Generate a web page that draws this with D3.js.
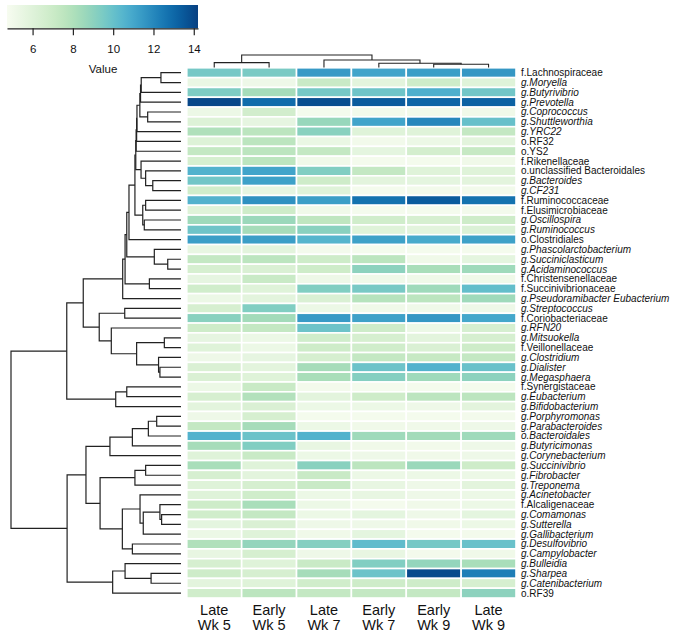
<!DOCTYPE html>
<html><head><meta charset="utf-8">
<script src="https://cdn.jsdelivr.net/npm/d3@7"></script>
<style>body{margin:0;background:#fff} svg{display:block;font-family:"Liberation Sans",Arial,Helvetica,sans-serif}</style>
</head><body>
<svg id="chart" width="675" height="638"></svg>
<script>
// ---------------- DATA ----------------
const columns = ["Late Wk 5","Early Wk 5","Late Wk 7","Early Wk 7","Early Wk 9","Late Wk 9"];
const rowLabels = ["f.Lachnospiraceae","g.Moryella","g.Butyrivibrio","g.Prevotella","g.Coprococcus","g.Shuttleworthia","g.YRC22","o.RF32","o.YS2","f.Rikenellaceae","o.unclassified Bacteroidales","g.Bacteroides","g.CF231","f.Ruminococcaceae","f.Elusimicrobiaceae","g.Oscillospira","g.Ruminococcus","o.Clostridiales","g.Phascolarctobacterium","g.Succiniclasticum","g.Acidaminococcus","f.Christensenellaceae","f.Succinivibrionaceae","g.Pseudoramibacter Eubacterium","g.Streptococcus","f.Coriobacteriaceae","g.RFN20","g.Mitsuokella","f.Veillonellaceae","g.Clostridium","g.Dialister","g.Megasphaera","f.Synergistaceae","g.Eubacterium","g.Bifidobacterium","g.Porphyromonas","g.Parabacteroides","o.Bacteroidales","g.Butyricimonas","g.Corynebacterium","g.Succinivibrio","g.Fibrobacter","g.Treponema","g.Acinetobacter","f.Alcaligenaceae","g.Comamonas","g.Sutterella","g.Gallibacterium","g.Desulfovibrio","g.Campylobacter","g.Bulleidia","g.Sharpea","g.Catenibacterium","o.RF39"];
const italicExtra = ["o.Bacteroidales"];

const lateWk5  = [9.6,5.4,9.4,14.0,5.3,6.1,8.0,6.1,7.3,6.5,10.6,9.7,6.8,10.6,6.0,8.5,9.8,11.3,5.5,7.3,6.5,5.6,6.8,5.3,6.5,9.1,6.9,5.6,6.0,5.2,6.3,6.3,5.3,6.5,5.8,5.2,7.3,10.6,8.3,6.0,8.2,6.5,6.0,6.0,6.9,6.8,5.7,5.3,8.0,5.5,6.5,6.9,5.8,6.8];
const earlyWk5 = [9.5,5.2,8.3,12.9,6.7,5.6,7.6,7.6,7.6,7.6,11.1,11.2,5.6,11.7,6.9,8.6,8.3,11.3,5.8,7.6,6.3,7.1,6.0,5.8,9.3,8.4,7.3,5.3,5.3,5.6,5.8,6.0,7.1,7.9,6.3,6.5,8.3,9.9,9.3,7.1,6.0,5.8,6.5,6.8,8.2,7.3,6.3,6.0,8.8,6.5,6.0,6.5,6.0,7.6];
const lateWk7  = [11.4,7.1,9.6,13.8,4.9,8.7,9.1,5.4,7.3,5.1,9.3,6.9,6.0,11.3,5.1,7.5,9.1,10.5,4.95,6.9,6.9,5.2,9.3,6.3,5.3,11.4,9.85,6.8,6.9,6.5,8.3,8.2,4.95,5.8,5.3,4.9,5.3,10.6,5.5,5.3,9.1,7.1,7.1,5.3,5.3,5.3,5.2,5.1,9.2,5.2,7.1,8.3,6.8,7.3];
const earlyWk7 = [11.1,5.8,9.8,13.4,5.0,11.1,6.0,5.0,5.7,4.9,7.3,5.8,4.9,12.7,4.9,6.8,6.0,11.2,4.9,7.6,9.0,5.1,9.55,7.8,5.1,11.2,6.9,6.5,6.8,7.3,9.85,9.2,4.9,6.9,5.3,4.9,5.1,8.5,5.1,5.2,7.6,5.3,5.5,5.5,4.9,5.7,5.2,5.7,10.2,5.5,9.3,9.85,6.9,7.3];
const earlyWk9 = [11.3,6.9,10.7,13.1,5.05,12.0,6.0,5.3,6.6,4.9,6.0,5.7,5.0,13.4,4.9,6.5,5.8,10.9,4.9,5.1,8.2,5.1,8.5,7.6,5.1,11.5,5.3,5.8,6.3,7.2,10.6,8.5,4.9,7.6,5.2,4.9,5.1,8.4,5.0,5.1,8.6,5.3,5.2,5.2,5.1,5.2,5.1,4.9,9.6,4.95,8.8,13.9,6.9,7.3];
const lateWk9  = [11.5,6.0,9.7,13.2,5.1,10.0,7.3,5.8,7.2,5.1,6.0,5.8,5.0,12.7,4.95,6.9,6.2,11.2,4.9,5.7,8.5,5.1,10.1,8.5,5.2,11.0,6.5,6.5,6.9,7.3,9.95,9.0,4.9,7.6,5.8,4.95,5.2,8.5,5.2,5.2,6.9,5.3,5.8,5.3,5.3,5.7,5.3,4.95,9.95,5.1,8.2,12.3,6.5,9.0];
const seriesValues = [lateWk5, earlyWk5, lateWk7, earlyWk7, earlyWk9, lateWk9];

// hclust-style merges: negative = leaf index (1-based), positive = earlier merge (1-based)
const rowMerge = [[-1,-2],[1,-3],[2,-4],[-5,-6],[3,4],[5,-7],[6,-8],[7,-9],[-12,-13],[-11,9],
  [-10,10],[8,11],[-14,-15],[-16,-17],[13,14],[12,15],[16,-18],[-20,-21],[-19,18],[17,19],
  [-22,-23],[20,21],[22,-24],[-25,-26],[-28,-29],[-31,-32],[-30,26],[25,27],[-27,28],[24,29],
  [23,30],[-33,-34],[32,-35],[31,33],[-36,-37],[35,-38],[36,-39],[37,-40],[-41,-42],[39,-43],
  [-46,-47],[-45,41],[42,-48],[-44,43],[-49,-50],[44,45],[40,46],[38,47],[-52,-53],[-51,49],
  [50,-54],[48,51],[34,52]];
const rowHeights = [11.8,23.4,23.8,19.6,24.2,25.9,26.1,26.4,16.6,20.8,
  23.5,26.6,20.8,21.6,22.5,27.1,30.6,7.8,15.7,31.9,
  18.6,32.9,34.3,33.1,9.8,12.4,13.2,26.1,41,48.1,
  57.5,31.9,38.4,67.2,14.3,19.2,28.6,41.8,20.8,27.1,
  11.4,12.4,22.2,24.1,28.6,34.5,47.6,55.9,17.6,32.9,
  40.2,67.0,100];
const colMerge = [[-5,-6],[-4,1],[-1,-2],[-3,2],[3,4]];
const colHeights = [25.6,33.6,38.4,60,100];

const legendTicks = [6,8,10,12,14];
const colorDomain = [4.73, 14.21];
const legendTitle = "Value";

// ---------------- CHART ----------------
const svg = d3.select("#chart");
const color = d3.scaleSequential(d3.interpolateGnBu).domain(colorDomain);

const x = d3.scaleBand().domain(columns).range([186.8, 516]);
const y = d3.scaleBand().domain(rowLabels).range([67.8, 598]);

// heatmap cells
const cells = [];
rowLabels.forEach((r, i) => columns.forEach((c, j) => cells.push({r, c, v: seriesValues[j][i]})));
svg.append("g").selectAll("rect").data(cells).join("rect")
  .attr("x", d => x(d.c)).attr("y", d => y(d.r))
  .attr("width", x.bandwidth()).attr("height", y.bandwidth())
  .attr("fill", d => color(d.v))
  .attr("stroke", "#fff").attr("stroke-width", 1.6);

// row labels
svg.append("g").selectAll("text").data(rowLabels).join("text")
  .attr("x", 521).attr("y", d => y(d) + y.bandwidth()/2)
  .attr("dy", "0.35em")
  .attr("font-size", 10)
  .attr("font-style", d => (d.startsWith("g.") || italicExtra.includes(d)) ? "italic" : "normal")
  .attr("fill", "#111")
  .text(d => d);

// column labels
const cl = svg.append("g").selectAll("text").data(columns).join("text")
  .attr("x", d => x(d) + x.bandwidth()/2)
  .attr("text-anchor", "middle").attr("font-size", 14.5).attr("fill", "#111");
cl.append("tspan").attr("x", d => x(d) + x.bandwidth()/2).attr("y", 614.5).text(d => d.split(" ")[0]);
cl.append("tspan").attr("x", d => x(d) + x.bandwidth()/2).attr("y", 630).text(d => d.split(" ").slice(1).join(" "));

// dendrogram builder
function dendroPaths(merge, heights, leafPos) {
  const nodes = [];
  const get = ref => ref < 0 ? {pos: leafPos(-ref - 1), h: 0} : nodes[ref - 1];
  const out = [];
  merge.forEach(([a, b], i) => {
    const A = get(a), B = get(b), h = heights[i];
    nodes.push({pos: (A.pos + B.pos) / 2, h});
    out.push({A, B, h});
  });
  return out;
}

// row dendrogram
const hx = d3.scaleLinear().domain([0, 100]).range([181, 11]);
const rowSegs = dendroPaths(rowMerge, rowHeights, i => y(rowLabels[i]) + y.bandwidth()/2);
svg.append("g").selectAll("path").data(rowSegs).join("path")
  .attr("d", s => `M${hx(s.A.h)},${s.A.pos}H${hx(s.h)}V${s.B.pos}H${hx(s.B.h)}`)
  .attr("fill", "none").attr("stroke", "#222").attr("stroke-width", 1.2);

// column dendrogram
const hy = d3.scaleLinear().domain([0, 100]).range([67.4, 55]);
const colSegs = dendroPaths(colMerge, colHeights, i => x(columns[i]) + x.bandwidth()/2);
svg.append("g").selectAll("path").data(colSegs).join("path")
  .attr("d", s => `M${s.A.pos},${hy(s.A.h)}V${hy(s.h)}H${s.B.pos}V${hy(s.B.h)}`)
  .attr("fill", "none").attr("stroke", "#222").attr("stroke-width", 1.1);

// legend
const lx = d3.scaleLinear().domain(colorDomain).range([7, 198]);
const defs = svg.append("defs");
const grad = defs.append("linearGradient").attr("id", "lg").attr("x1", "0%").attr("x2", "100%");
d3.range(0, 1.0001, 0.05).forEach(t => {
  grad.append("stop").attr("offset", (t * 100) + "%")
    .attr("stop-color", color(colorDomain[0] + t * (colorDomain[1] - colorDomain[0])));
});
svg.append("rect").attr("x", lx(colorDomain[0])).attr("y", 5)
  .attr("width", lx(colorDomain[1]) - lx(colorDomain[0])).attr("height", 23.3)
  .attr("fill", "url(#lg)");
const ax = svg.append("g").attr("transform", "translate(0,28.3)")
  .call(d3.axisBottom(lx).tickValues(legendTicks).tickSize(7).tickSizeOuter(0).tickPadding(10));
ax.select(".domain").attr("stroke", "#222").attr("stroke-width", 1.2);
ax.selectAll(".tick line").attr("stroke", "#222").attr("stroke-width", 1.2);
ax.selectAll("text").attr("font-size", 11.5).attr("fill", "#111")
  .attr("font-family", '"Liberation Sans",Arial,sans-serif');
svg.append("text").attr("x", 103).attr("y", 72.5).attr("text-anchor", "middle")
  .attr("font-size", 11.5).attr("fill", "#111").text(legendTitle);
</script>
</body></html>
